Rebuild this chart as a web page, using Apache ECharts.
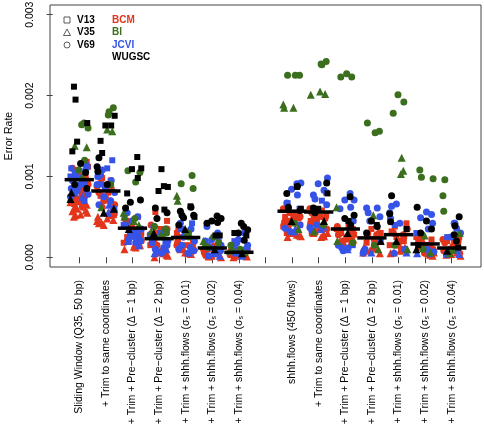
<!DOCTYPE html>
<html><head><meta charset="utf-8">
<script src="https://cdn.jsdelivr.net/npm/echarts/dist/echarts.min.js"></script>
<style>html,body{margin:0;padding:0;background:#fff}#c{width:484px;height:424px}</style>
</head><body><div id="c"></div>
<script>
// x categories (position 8 is an empty gap)
const categories = [
  "Sliding Window (Q35, 50 bp)",
  "+ Trim to same coordinates",
  "+ Trim + Pre\u2212cluster (\u0394 = 1 bp)",
  "+ Trim + Pre\u2212cluster (\u0394 = 2 bp)",
  "+ Trim + shhh.flows (\u03c3{s|s} = 0.01)",
  "+ Trim + shhh.flows (\u03c3{s|s} = 0.02)",
  "+ Trim + shhh.flows (\u03c3{s|s} = 0.04)",
  "",
  "shhh.flows (450 flows)",
  "+ Trim to same coordinates",
  "+ Trim + Pre\u2212cluster (\u0394 = 1 bp)",
  "+ Trim + Pre\u2212cluster (\u0394 = 2 bp)",
  "+ Trim + shhh.flows (\u03c3{s|s} = 0.01)",
  "+ Trim + shhh.flows (\u03c3{s|s} = 0.02)",
  "+ Trim + shhh.flows (\u03c3{s|s} = 0.04)"
];
const positions = [1,2,3,4,5,6,7,9,10,11,12,13,14,15];
const yTicks = [0, 0.001, 0.002, 0.003];
// medians (x 0.001)
const medians = [0.96,0.82,0.36,0.23,0.245,0.115,0.062,0.57,0.56,0.35,0.24,0.28,0.165,0.115];
// horizontal jitter pattern (units of group spacing)
const jitter = [-0.30,0.18,-0.08,0.28,-0.20,0.05,0.33,-0.26,0.12,-0.14,0.24,-0.02,-0.33,0.09,0.30,-0.17,0.20];

// error rates (x 0.001), one inner list per group
const BCM_V13 = [[0.72,0.85,0.98,1.08,1.18,0.65,0.78,0.92,1.12,0.68,1.02],[0.6,0.7,0.8,0.95,0.55,0.88,0.66,0.76,0.98,0.52],[0.3,0.4,0.5,0.25,0.2,0.35,0.28,0.45,0.18],[0.56,0.45,0.3,0.2,0.15,0.25,0.35,0.1],[0.3,0.2,0.15,0.1,0.25,0.18,0.32],[0.1,0.15,0.05,0.12,0.08],[0.05,0.08,0.1,0.06],[0.3,0.35,0.4,0.45,0.5,0.38,0.42,0.55,0.48],[0.3,0.38,0.45,0.5,0.35,0.42,0.52,0.58],[0.25,0.3,0.35,0.4,0.22,0.32,0.28],[0.15,0.2,0.3,0.35,0.25,0.18,0.28],[0.2,0.3,0.38,0.42,0.25,0.32,0.15],[0.1,0.18,0.25,0.3,0.15,0.22,0.12],[0.1,0.15,0.2,0.25,0.12,0.18,0.08]];
const BCM_V35 = [[0.5,0.52,0.55,0.6,0.57,0.68,0.75,0.53,0.58,0.62,0.65],[0.4,0.42,0.45,0.5,0.48,0.58,0.43,0.46,0.52,0.55],[0.1,0.13,0.18,0.2,0.15,0.12,0.16,0.22],[0.0,0.03,0.08,0.1,0.05,0.02,0.06],[0.05,0.08,0.12,0.06,0.04,0.1],[0.0,0.02,0.05,0.03,0.01],[0.0,0.02,0.01,0.03],[0.25,0.27,0.3,0.32,0.28,0.26,0.3,0.35],[0.25,0.28,0.3,0.35,0.26,0.3,0.33],[0.15,0.18,0.2,0.16,0.22],[0.05,0.08,0.1,0.06,0.12],[0.05,0.08,0.12,0.06,0.1],[0.02,0.05,0.08,0.03,0.06],[0.02,0.04,0.06,0.03,0.05]];
const BCM_V69 = [[0.62,0.7,0.8,0.9,1.02,0.75,0.66,0.85,0.95,0.72,1.1],[0.55,0.65,0.75,0.85,0.92,0.62,0.58,0.7,0.8,0.88],[0.2,0.28,0.35,0.45,0.38,0.25,0.32,0.4],[0.1,0.2,0.25,0.35,0.15,0.18,0.28,0.4],[0.1,0.2,0.25,0.35,0.15,0.18,0.28],[0.08,0.12,0.03,0.1,0.06,0.14],[0.05,0.03,0.08,0.04,0.07],[0.35,0.4,0.5,0.55,0.45,0.6,0.38,0.48,0.52],[0.35,0.45,0.55,0.6,0.42,0.38,0.48,0.5],[0.2,0.28,0.35,0.38,0.25,0.32,0.3],[0.1,0.2,0.25,0.3,0.15,0.22,0.28],[0.1,0.2,0.28,0.35,0.15,0.25,0.3],[0.05,0.12,0.2,0.22,0.1,0.16,0.25],[0.05,0.1,0.18,0.22,0.08,0.14,0.2]];
const JCVI_V13 = [[1.0,1.1,0.9,1.15],[1.0,1.1,1.2,0.9],[0.4,0.5,0.3],[0.3,0.2],[0.42,0.35],[0.2,0.15],[0.2,0.1],[0.67,0.6],[0.8,0.7],[0.15,0.12],[0.2],[0.4],[0.3],[0.25]];
const JCVI_V35 = [[0.8,0.85,0.75,0.95],[0.6,0.65,0.55],[0.15,0.2,0.25],[0.05,0.1,0.08],[0.1,0.06],[0.02,0.05],[0.02],[0.35,0.32],[0.35,0.38],[0.1],[0.06],[0.06],[0.05],[0.04]];
const JCVI_V69 = [[0.7,0.78,0.88,0.92,1.0,1.05,1.12,0.82,0.95,0.75,0.85,0.98,1.08],[0.7,0.8,0.85,0.95,1.02,1.08,0.6,0.75,0.65,0.9,1.0],[0.18,0.25,0.3,0.35,0.45,0.5,0.55,0.22,0.2,0.28,0.4],[0.05,0.12,0.2,0.25,0.32,0.38,0.1,0.15,0.08,0.18,0.28],[0.05,0.12,0.2,0.28,0.35,0.42,0.15,0.08,0.25,0.1],[0.05,0.1,0.15,0.22,0.3,0.38,0.02,0.08,0.12,0.2],[0.03,0.08,0.15,0.22,0.3,0.12,0.05,0.1,0.18],[0.91,0.92,0.84,0.77,0.67,0.6,0.4,0.32,0.36],[0.98,0.91,0.83,0.77,0.72,0.65,0.4,0.33,0.37],[0.79,0.71,0.71,0.62,0.6,0.12,0.45,0.08,0.15],[0.61,0.61,0.55,0.5,0.45,0.1,0.05,0.08],[0.66,0.63,0.55,0.48,0.42,0.1,0.05,0.08],[0.56,0.53,0.49,0.42,0.35,0.1,0.04,0.07],[0.42,0.42,0.36,0.3,0.25,0.08,0.03,0.06]];
const BI_V35 = [[1.38,1.36,1.0],[1.58,1.56,0.62],[0.55,0.5,0.45,0.4],[0.32,0.28],[0.76,0.70,0.3],[0.2,0.15],[0.12,0.08],[1.89,1.85,1.85,0.35],[2.01,2.05,2.02,0.32],[0.62,0.2],[0.52,0.1],[1.23,1.03,1.07,0.1],[0.27,0.06],[0.3,0.05]];
const BI_V69 = [[1.64,1.66,1.60,1.08,1.2],[1.85,1.80,1.76,0.9],[1.07,1.05,0.93,0.48],[0.35,0.38,0.3,0.25],[1.01,0.91,0.85,0.25,0.3],[0.25,0.18,0.12],[0.15,0.1,0.05],[2.25,2.25,2.25,0.42],[2.42,2.38,2.39,0.4],[2.27,2.23,2.23,0.18],[1.66,1.56,1.54,0.15],[2.01,1.92,1.78,0.15],[1.08,0.99,0.97,0.1],[0.96,0.76,0.57,0.08]];
const WUGSC_V13 = [[2.11,1.95,1.66,1.43,1.31],[1.75,1.63,1.63,1.44,1.29],[1.24,1.10,1.09,0.98,0.79],[1.09,0.88,0.87,0.82,0.59],[0.63,0.5],[0.27,0.27],[0.3,0.27],[0.87,0.6],[0.79,0.6],[0.45],[0.4],[0.35],[0.15],[0.12]];
const WUGSC_V35 = [[0.72,0.8],[0.6,0.55],[0.35],[0.3],[0.35],[0.1],[0.05],[0.45],[0.45],[0.3],[0.2],[0.2],[0.1],[0.08]];
const WUGSC_V69 = [[1.16,1.05,0.9,0.85],[1.23,1.12,1.06,0.9],[0.71,0.68,0.61],[0.61,0.55,0.48],[0.62,0.57,0.52,0.52,0.49,0.4],[0.51,0.48,0.45,0.43,0.42],[0.42,0.38,0.34,0.30,0.21],[0.88,0.79,0.62,0.58],[0.61,0.55,0.92],[0.75,0.52,0.48,0.4],[0.45,0.38,0.3],[0.76,0.54,0.44],[0.62,0.45,0.35,0.3],[0.5,0.39,0.28,0.2]];

const RED = '#e3341c', GREEN = '#3b6e1d', BLUE = '#3653e8', BLACK = '#000000';
const SHAPE = {V13: ['rect', 6], V35: ['triangle', 8], V69: ['circle', 7]};
const layers = [
  ['BCM V13', BCM_V13, RED, 'V13'], ['BCM V35', BCM_V35, RED, 'V35'], ['BCM V69', BCM_V69, RED, 'V69'],
  ['JCVI V13', JCVI_V13, BLUE, 'V13'], ['JCVI V35', JCVI_V35, BLUE, 'V35'], ['JCVI V69', JCVI_V69, BLUE, 'V69'],
  ['BI V35', BI_V35, GREEN, 'V35'], ['BI V69', BI_V69, GREEN, 'V69'],
  ['WUGSC V13', WUGSC_V13, BLACK, 'V13'], ['WUGSC V35', WUGSC_V35, BLACK, 'V35'], ['WUGSC V69', WUGSC_V69, BLACK, 'V69']
];
const counters = positions.map(() => 0);
const series = layers.map(([name, arr, color, reg]) => {
  const data = [];
  arr.forEach((vals, g) => vals.forEach(v => {
    const j = jitter[(counters[g] * 5 + g * 3) % jitter.length];
    counters[g]++;
    data.push([positions[g] + j, v * 1e-3]);
  }));
  return {type: 'scatter', name, data, symbol: SHAPE[reg][0], symbolSize: SHAPE[reg][1],
    itemStyle: {color, opacity: 1}, silent: true, animation: false};
});
series.push({
  type: 'custom', name: 'median', animation: false, silent: true, z: 5,
  data: positions.map((p, i) => [p, medians[i] * 1e-3]),
  renderItem: (params, api) => {
    const a = api.coord([api.value(0) - 0.55, api.value(1)]);
    const b = api.coord([api.value(0) + 0.55, api.value(1)]);
    return {type: 'line', shape: {x1: a[0], y1: a[1], x2: b[0], y2: b[1]}, style: {stroke: '#000', lineWidth: 3.5}};
  }
});

const FONT = 'Liberation Sans, Arial, Helvetica, sans-serif';
const chart = echarts.init(document.getElementById('c'), null, {renderer: 'canvas'});
const legendGraphics = [
  {type: 'rect', shape: {x: 64, y: 17, width: 6, height: 6}, style: {fill: 'none', stroke: '#333', lineWidth: 0.8}},
  {type: 'polygon', shape: {points: [[67, 29], [63.5, 35.5], [70.5, 35.5]]}, style: {fill: 'none', stroke: '#333', lineWidth: 0.8}},
  {type: 'circle', shape: {cx: 67, cy: 45, r: 3}, style: {fill: 'none', stroke: '#333', lineWidth: 0.8}}
];
[['V13', 20], ['V35', 32.5], ['V69', 45]].forEach(([t, y]) => legendGraphics.push(
  {type: 'text', x: 77, y, style: {text: t, fill: '#000', font: 'bold 10px ' + FONT, textVerticalAlign: 'middle'}}));
[['BCM', 20, RED], ['BI', 32.5, GREEN], ['JCVI', 45, BLUE], ['WUGSC', 57.5, BLACK]].forEach(([t, y, c]) => legendGraphics.push(
  {type: 'text', x: 112, y, style: {text: t, fill: c, font: 'bold 10px ' + FONT, textVerticalAlign: 'middle'}}));

chart.setOption({
  backgroundColor: '#fff',
  animation: false,
  textStyle: {fontFamily: FONT},
  grid: {left: 50, top: 5, width: 431, height: 262, show: true, borderColor: '#444', borderWidth: 1,
    backgroundColor: 'transparent', containLabel: false, outerBoundsMode: 'none'},
  xAxis: {
    type: 'value', min: -0.1, max: 16.1,
    axisLine: {show: false}, splitLine: {show: false},
    axisTick: {show: true, length: 6, lineStyle: {color: '#444'}, customValues: categories.map((c, i) => i + 1)},
    axisLabel: {
      show: true, rotate: 90, margin: 13, fontSize: 10.5, color: '#000', fontFamily: FONT,
      customValues: categories.map((c, i) => i + 1),
      formatter: v => categories[Math.round(v) - 1] || '',
      rich: {s: {fontSize: 7, verticalAlign: 'bottom', fontFamily: FONT, color: '#000'}}
    }
  },
  yAxis: {
    type: 'value', min: -0.00012, max: 0.00312,
    name: 'Error Rate', nameLocation: 'middle', nameGap: 35, nameRotate: 90,
    nameTextStyle: {fontSize: 10.5, color: '#000', fontFamily: FONT},
    axisLine: {show: false}, splitLine: {show: false},
    axisTick: {show: true, length: 6, lineStyle: {color: '#444'}, customValues: yTicks},
    axisLabel: {rotate: 90, margin: 14, fontSize: 10.5, color: '#000', fontFamily: FONT,
      customValues: yTicks, formatter: v => v.toFixed(3)}
  },
  graphic: legendGraphics,
  series
});
</script></body></html>
